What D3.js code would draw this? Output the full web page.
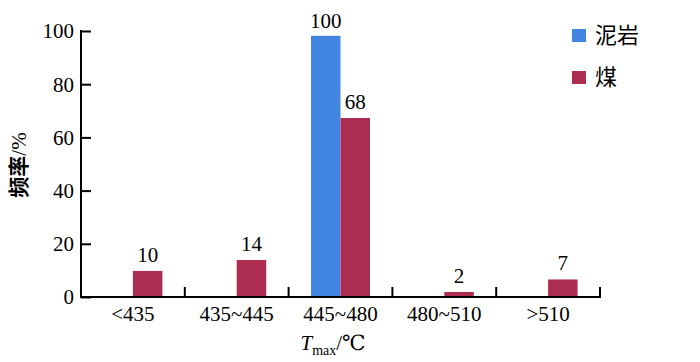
<!DOCTYPE html>
<html>
<head>
<meta charset="utf-8">
<script src="https://cdn.jsdelivr.net/npm/d3@7"></script>
<style>
  body { margin: 0; background: #fff; }
</style>
</head>
<body>
<svg id="chart" width="700" height="362" font-family="'Liberation Serif', 'Times New Roman', 'DejaVu Serif', serif"></svg>
<script>
const categories = ["<435", "435~445", "445~480", "480~510", ">510"];
const seriesNames = ["泥岩", "煤"];
const mudstone = [0, 0, 98.2, 0, 0];
const coal = [9.8, 13.9, 67.3, 1.9, 6.6];
const mudstoneLabels = ["", "", "100", "", ""];
const coalLabels = ["10", "14", "68", "2", "7"];
const yTicks = [0, 20, 40, 60, 80, 100];
const colors = ["#4286e2", "#ad2d52"];
const cjkFont = "'Noto Sans CJK SC', sans-serif";

let svg = d3.select("#chart");
let mLeft = 81, mRight = 600, mTop = 31, mBottom = 297;

let x = d3.scaleBand().domain(categories).range([mLeft, mRight]);
let y = d3.scaleLinear().domain([0, 100]).range([mBottom, mTop]);
let barW = 29.5;

// bars: mudstone left of band centre, coal right of it
categories.forEach(function(c, i) {
    let cx = x(c) + x.bandwidth() / 2;
    if (mudstone[i] > 0) {
        svg.append("rect")
            .attr("x", cx - barW).attr("y", y(mudstone[i]))
            .attr("width", barW).attr("height", y(0) - y(mudstone[i]))
            .attr("fill", colors[0]);
        svg.append("text")
            .attr("x", cx - barW / 2).attr("y", y(mudstone[i]) - 8)
            .attr("text-anchor", "middle").attr("font-size", 21)
            .text(mudstoneLabels[i]);
    }
    svg.append("rect")
        .attr("x", cx).attr("y", y(coal[i]))
        .attr("width", barW).attr("height", y(0) - y(coal[i]))
        .attr("fill", colors[1]);
    svg.append("text")
        .attr("x", cx + barW / 2).attr("y", y(coal[i]) - 9)
        .attr("text-anchor", "middle").attr("font-size", 21)
        .text(coalLabels[i]);
});

// y axis
let yAxis = svg.append("g").attr("transform", "translate(" + mLeft + ",0)")
    .call(d3.axisRight(y).tickValues(yTicks).tickSize(10).tickFormat(""));
yAxis.select(".domain").remove();
yAxis.selectAll("line").attr("stroke", "#000").attr("stroke-width", 2);
svg.append("line").attr("x1", mLeft).attr("x2", mLeft).attr("y1", mTop - 1).attr("y2", mBottom + 1)
    .attr("stroke", "#000").attr("stroke-width", 2);
svg.selectAll(".ylab").data(yTicks).enter().append("text")
    .attr("class", "ylab")
    .attr("x", mLeft - 7).attr("y", function(d) { return y(d); })
    .attr("dy", "0.35em").attr("text-anchor", "end").attr("font-size", 21)
    .text(function(d) { return d; });

// x axis
svg.append("line").attr("x1", mLeft).attr("x2", mRight + 1).attr("y1", mBottom).attr("y2", mBottom)
    .attr("stroke", "#000").attr("stroke-width", 2);
svg.selectAll(".xtick").data(categories).enter().append("line")
    .attr("x1", function(d) { return x(d) + x.bandwidth(); })
    .attr("x2", function(d) { return x(d) + x.bandwidth(); })
    .attr("y1", mBottom - 10).attr("y2", mBottom)
    .attr("stroke", "#000").attr("stroke-width", 2);
svg.selectAll(".xlab").data(categories).enter().append("text")
    .attr("x", function(d) { return x(d) + x.bandwidth() / 2; })
    .attr("y", 321).attr("text-anchor", "middle").attr("font-size", 21)
    .text(function(d) { return d; });

// axis titles
let xt = svg.append("text").attr("x", 333).attr("y", 350).attr("text-anchor", "middle").attr("font-size", 21);
xt.append("tspan").attr("font-style", "italic").text("T");
xt.append("tspan").attr("font-size", 14).attr("dy", 5).text("max");
xt.append("tspan").attr("dy", -5).text("/℃");

let yt = svg.append("text").attr("transform", "translate(26,165) rotate(-90)")
    .attr("text-anchor", "middle").attr("font-size", 21);
yt.append("tspan").attr("font-family", cjkFont).attr("font-weight", "bold").text("频率");
yt.append("tspan").text("/%");

// legend
seriesNames.forEach(function(name, i) {
    let ly = 35 + i * 42;
    svg.append("rect").attr("x", 572).attr("y", ly - 6).attr("width", 14).attr("height", 13)
        .attr("fill", colors[i]);
    svg.append("text").attr("font-family", cjkFont).attr("x", 595).attr("y", ly)
        .attr("dy", "0.35em").attr("font-size", 22).text(name);
});
</script>
</body>
</html>
